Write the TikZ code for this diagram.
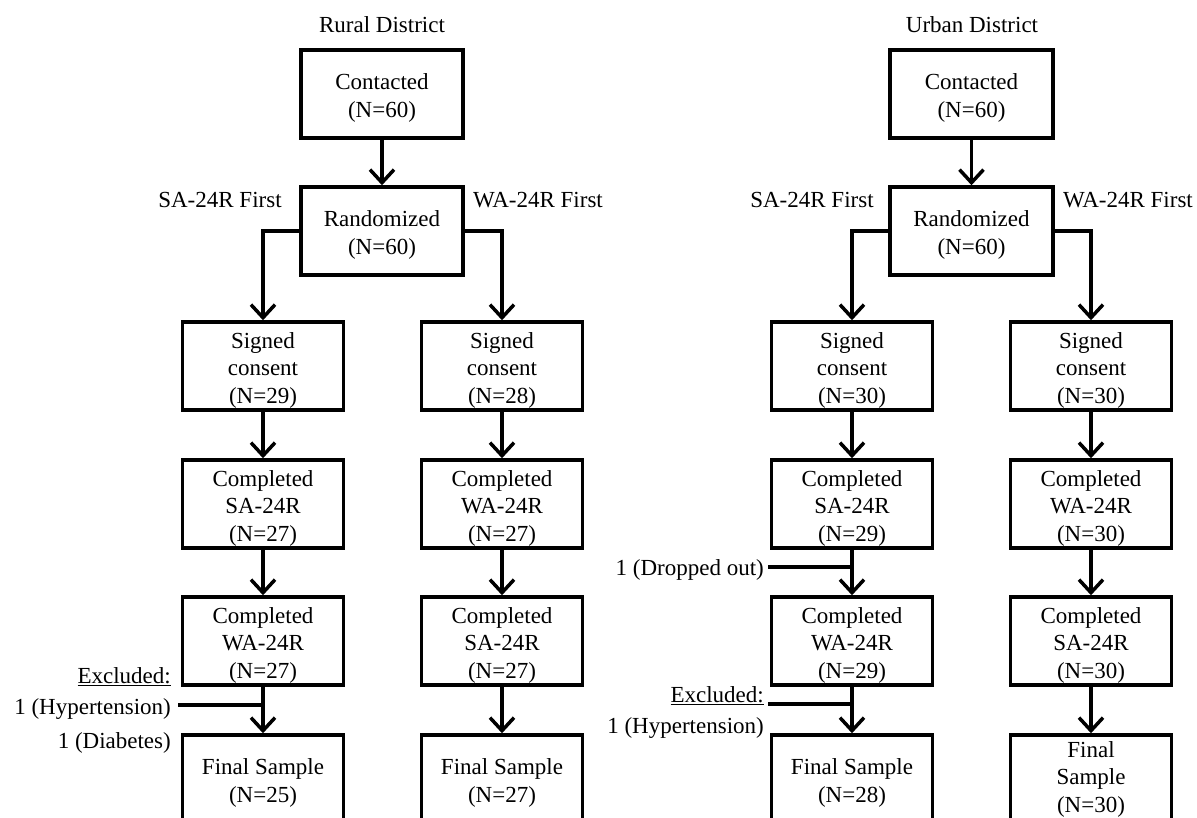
\documentclass[tikz,border=0pt]{standalone}
\usepackage{fontspec}
\setmainfont{Liberation Serif}
\usetikzlibrary{arrows.meta}
\newcommand\mytopfix{\rule{0pt}{24pt}}
\begin{document}
\begin{tikzpicture}[x=1pt,y=-1pt,
  box/.style={draw, line width=3.5pt, minimum width=161pt, minimum height=88pt, inner sep=0pt, align=center, font=\fontsize{23}{27.5}\selectfont},
  lbl/.style={inner sep=0pt, font=\fontsize{23}{27.5}\selectfont},
  conn/.style={line width=3.5pt},
  arr/.style={line width=3.5pt, -{Straight Barb[length=13pt,width=24pt]}}]
\useasboundingbox (0,0) rectangle (1197,818);
\clip (0,0) rectangle (1197,818);
% ---------- Rural ----------
\node[lbl] (rtitle) at (382,25) {Rural District};
\node[box, minimum width=162pt] (rcon) at (382,94) {\mytopfix Contacted\\(N=60)};
\node[box, minimum width=162pt] (rrand) at (382,231) {\mytopfix Randomized\\(N=60)};
\node[lbl] (rsa) at (220,200) {SA-24R First};
\node[lbl] (rwa) at (538,200) {WA-24R First};
\node[box] (rL1) at (263,366) {\mytopfix Signed\\consent\\(N=29)};
\node[box] (rR1) at (502,366) {\mytopfix Signed\\consent\\(N=28)};
\node[box] (rL2) at (263,504) {\mytopfix Completed\\SA-24R\\(N=27)};
\node[box] (rR2) at (502,504) {\mytopfix Completed\\WA-24R\\(N=27)};
\node[box] (rL3) at (263,641) {\mytopfix Completed\\WA-24R\\(N=27)};
\node[box] (rR3) at (502,641) {\mytopfix Completed\\SA-24R\\(N=27)};
\node[box] (rL4) at (263,779) {\mytopfix Final Sample\\(N=25)};
\node[box] (rR4) at (502,779) {\mytopfix Final Sample\\(N=27)};
\node[lbl, anchor=east] (rex) at (171,677) {\underline{Excluded:}};
\node[lbl, anchor=east] (rhyp) at (171,709) {1 (Hypertension)};
\node[lbl, anchor=east] (rdia) at (171,743) {1 (Diabetes)};
\coordinate (rexc) at (178,705);
\draw[arr] (rcon) -- (rrand);
\draw[arr] (rrand.west) -| (rL1.north);
\draw[arr] (rrand.east) -| (rR1.north);
\draw[arr] (rL1) -- (rL2);
\draw[arr] (rL2) -- (rL3);
\draw[arr] (rL3) -- (rL4);
\draw[arr] (rR1) -- (rR2);
\draw[arr] (rR2) -- (rR3);
\draw[arr] (rR3) -- (rR4);
\draw[conn] (rexc) -- (rexc -| rL3.south);
% ---------- Urban ----------
\node[lbl] (utitle) at (972,25) {Urban District};
\node[box, minimum width=163pt] (ucon) at (971.5,94) {\mytopfix Contacted\\(N=60)};
\node[box, minimum width=163pt] (urand) at (971.5,231) {\mytopfix Randomized\\(N=60)};
\node[lbl] (usa) at (812,200) {SA-24R First};
\node[lbl] (uwa) at (1128,200) {WA-24R First};
\node[box] (uL1) at (852,366) {\mytopfix Signed\\consent\\(N=30)};
\node[box] (uR1) at (1091,366) {\mytopfix Signed\\consent\\(N=30)};
\node[box] (uL2) at (852,504) {\mytopfix Completed\\SA-24R\\(N=29)};
\node[box] (uR2) at (1091,504) {\mytopfix Completed\\WA-24R\\(N=30)};
\node[box] (uL3) at (852,641) {\mytopfix Completed\\WA-24R\\(N=29)};
\node[box] (uR3) at (1091,641) {\mytopfix Completed\\SA-24R\\(N=30)};
\node[box] (uL4) at (852,779) {\mytopfix Final Sample\\(N=28)};
\node[box] (uR4) at (1091,779) {Final\\Sample\\(N=30)};
\node[lbl, anchor=east] (udrop) at (764,570) {1 (Dropped out)};
\node[lbl, anchor=east] (uex) at (764,696) {\underline{Excluded:}};
\node[lbl, anchor=east] (uhyp) at (764,728) {1 (Hypertension)};
\coordinate (udropc) at (768,567);
\coordinate (uexc) at (768,704);
\draw[arr] (ucon) -- (urand);
\draw[arr] (urand.west) -| (uL1.north);
\draw[arr] (urand.east) -| (uR1.north);
\draw[arr] (uL1) -- (uL2);
\draw[arr] (uL2) -- (uL3);
\draw[arr] (uL3) -- (uL4);
\draw[arr] (uR1) -- (uR2);
\draw[arr] (uR2) -- (uR3);
\draw[arr] (uR3) -- (uR4);
\draw[conn] (udropc) -- (udropc -| uL2.south);
\draw[conn] (uexc) -- (uexc -| uL3.south);
\end{tikzpicture}
\end{document}
